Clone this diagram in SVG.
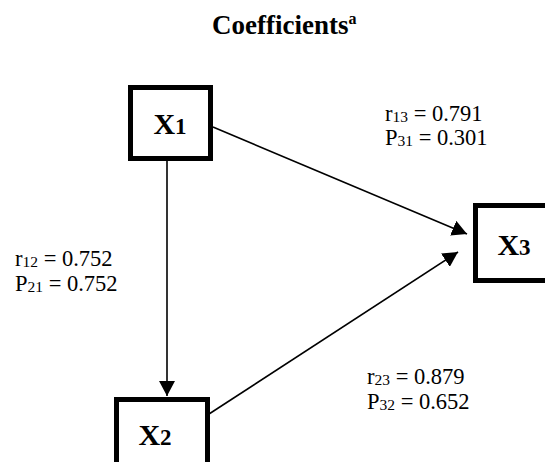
<svg xmlns="http://www.w3.org/2000/svg" width="545" height="462" viewBox="0 0 545 462" font-family="'Liberation Serif', 'Times New Roman', serif">
<style>
.box{fill:#fff;stroke:#000;stroke-width:5}
.node{font-size:30px;font-weight:bold}
.nsub{font-size:23px}
.lbl{font-size:22.5px}
.sub{font-size:15.5px}
.edge{stroke:#000;stroke-width:1.6;fill:none}
</style>
<defs>
<marker id="ah" viewBox="0 0 15 16" refX="15" refY="8" markerWidth="15" markerHeight="16" markerUnits="userSpaceOnUse" orient="auto">
<path d="M0,0 L15,8 L0,16 z" fill="#000"/>
</marker>
</defs>
<rect width="545" height="462" fill="#fff"/>
<text x="212" y="34" font-size="27" font-weight="bold">Coefficients<tspan font-size="16" dy="-10">a</tspan></text>
<g id="connectors">
<line class="edge" x1="167" y1="161" x2="167" y2="396" marker-end="url(#ah)"/>
<line class="edge" x1="213" y1="127" x2="467" y2="234" marker-end="url(#ah)"/>
<line class="edge" x1="209" y1="414" x2="458" y2="252" marker-end="url(#ah)"/>
</g>
<g id="X1">
<rect class="box" x="130.5" y="87.5" width="80" height="71"/>
<text class="node" x="170" y="134" text-anchor="middle">X<tspan class="nsub">1</tspan></text>
</g>
<g id="X3">
<rect class="box" x="475.5" y="205.5" width="80" height="75"/>
<text class="node" x="514" y="255" text-anchor="middle">X<tspan class="nsub">3</tspan></text>
</g>
<g id="X2">
<rect class="box" x="116.5" y="399.5" width="91" height="80"/>
<text class="node" x="155" y="445" text-anchor="middle">X<tspan class="nsub">2</tspan></text>
</g>
<g id="labels">
<text class="lbl" x="385" y="121">r<tspan class="sub" dy="1">13</tspan><tspan dy="-1"> = 0.791</tspan></text>
<text class="lbl" x="385" y="145">P<tspan class="sub" dy="1">31</tspan><tspan dy="-1"> = 0.301</tspan></text>
<text class="lbl" x="15" y="266">r<tspan class="sub" dy="1">12</tspan><tspan dy="-1"> = 0.752</tspan></text>
<text class="lbl" x="15" y="291">P<tspan class="sub" dy="1">21</tspan><tspan dy="-1"> = 0.752</tspan></text>
<text class="lbl" x="367" y="384">r<tspan class="sub" dy="1">23</tspan><tspan dy="-1"> = 0.879</tspan></text>
<text class="lbl" x="367" y="409">P<tspan class="sub" dy="1">32</tspan><tspan dy="-1"> = 0.652</tspan></text>
</g>
</svg>
